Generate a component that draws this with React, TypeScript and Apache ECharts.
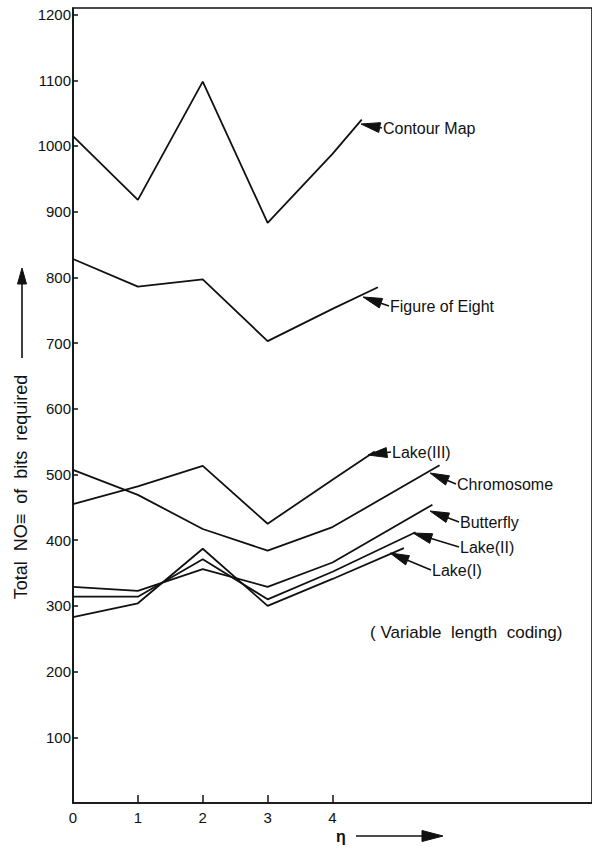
import React, { useEffect, useRef } from "react";
import * as echarts from "echarts";

// ---- data ----
const xTickLabels = [0, 1, 2, 3, 4];
const xTickMarks = [1, 2, 3, 4];
const yTickLabels = [100, 200, 300, 400, 500, 600, 700, 800, 900, 1000, 1100, 1200];

const contourMap = [[0, 1015], [1, 918], [2, 1098], [3, 883], [4, 988], [4.45, 1040]];
const figureOfEight = [[0, 828], [1, 786], [2, 797], [3, 703], [4, 752], [4.7, 785]];
const lake3 = [[0, 455], [1, 482], [2, 513], [3, 425], [4, 492], [4.65, 535]];
const chromosome = [[0, 507], [1, 469], [2, 417], [3, 384], [4, 420], [5.65, 514]];
const butterfly = [[0, 329], [1, 323], [2, 356], [3, 329], [4, 366], [5.54, 454]];
const lake2 = [[0, 314], [1, 314], [2, 371], [3, 310], [4, 352], [5.28, 412]];
const lake1 = [[0, 283], [1, 304], [2, 387], [3, 300], [4, 341], [5.1, 388]];

const seriesNames = ["Contour Map", "Figure of Eight", "Lake(III)", "Chromosome", "Butterfly", "Lake(II)", "Lake(I)"];
const seriesData = [contourMap, figureOfEight, lake3, chromosome, butterfly, lake2, lake1];

const yTitle = "Total  NO\u2261  of  bits  required";
const xTitle = "\u03b7";
const noteText = "( Variable  length  coding)";

// ---- layout (pixels) ----
const INK = "#111";
const FONT = "'Liberation Sans', Arial, sans-serif";
const labelLayout = [
  { tip: [361, 124], tx: 383, ty: 128 },
  { tip: [363, 297], tx: 390, ty: 306 },
  { tip: [368, 455], tx: 392, ty: 452 },
  { tip: [430, 473], tx: 457, ty: 484 },
  { tip: [430, 511], tx: 460, ty: 522 },
  { tip: [413, 533], tx: 460, ty: 547 },
  { tip: [390, 553], tx: 432, ty: 570 },
];

function arrow(tx: number, ty: number, ex: number, ey: number, headLen: number, headW: number) {
  const dx = ex - tx;
  const dy = ey - ty;
  const len = Math.sqrt(dx * dx + dy * dy) || 1;
  const ux = dx / len;
  const uy = dy / len;
  const bx = tx + ux * headLen;
  const by = ty + uy * headLen;
  const px = -uy * headW / 2;
  const py = ux * headW / 2;
  const els: any[] = [
    {
      type: "polygon",
      shape: { points: [[tx, ty], [bx + px, by + py], [bx - px, by - py]] },
      style: { fill: INK, stroke: INK, lineWidth: 1 },
      silent: true,
    },
  ];
  if (len > headLen) {
    els.push({
      type: "line",
      shape: { x1: bx, y1: by, x2: ex, y2: ey },
      style: { stroke: INK, lineWidth: 1.6 },
      silent: true,
    });
  }
  return els;
}

export default function App() {
  const ref = useRef<HTMLDivElement>(null);

  useEffect(() => {
    document.body.style.margin = "0";
    if (!ref.current) return;
    const chart = echarts.init(ref.current, null, { renderer: "svg" });

    const graphics: any[] = [];
    labelLayout.forEach((l, i) => {
      graphics.push(...arrow(l.tip[0], l.tip[1], l.tx - 1, l.ty, 19, 10));
      graphics.push({
        type: "text",
        x: l.tx,
        y: l.ty,
        silent: true,
        style: {
          text: seriesNames[i],
          fill: INK,
          font: `16px ${FONT}`,
          textAlign: "left",
          textVerticalAlign: "middle",
        },
      });
    });
    // y axis title + arrow
    graphics.push({
      type: "text",
      x: 21,
      y: 487,
      rotation: Math.PI / 2,
      silent: true,
      style: {
        text: yTitle,
        fill: INK,
        font: `18px ${FONT}`,
        textAlign: "center",
        textVerticalAlign: "middle",
      },
    });
    graphics.push(...arrow(22, 268, 22, 358, 16, 9));
    // x axis title + arrow
    graphics.push({
      type: "text",
      x: 341,
      y: 836,
      silent: true,
      style: { text: xTitle, fill: INK, font: `bold 16px ${FONT}`, textAlign: "center", textVerticalAlign: "middle" },
    });
    graphics.push(...arrow(443, 836, 356, 836, 21, 11));
    // note
    graphics.push({
      type: "text",
      x: 370,
      y: 632,
      silent: true,
      style: { text: noteText, fill: INK, font: `17px ${FONT}`, textAlign: "left", textVerticalAlign: "middle" },
    });

    chart.setOption({
      animation: false,
      backgroundColor: "#fff",
      grid: {
        left: 73,
        top: 8,
        width: 522,
        height: 795,
        show: true,
        borderColor: INK,
        borderWidth: 1.6,
        backgroundColor: "transparent",
      },
      xAxis: {
        type: "value",
        min: 0,
        max: 8,
        interval: 1,
        axisLine: { show: true, onZero: false, lineStyle: { color: INK, width: 1.6 } },
        axisTick: { show: true, inside: true, length: 8, customValues: xTickMarks, lineStyle: { color: INK, width: 1.5 } },
        axisLabel: {
          customValues: xTickLabels,
          color: INK,
          fontSize: 15,
          fontFamily: FONT,
          margin: 7,
          formatter: (v: number) => String(v),
        },
        splitLine: { show: false },
      },
      yAxis: {
        type: "value",
        min: 0,
        max: 1210,
        axisLine: { show: true, onZero: false, lineStyle: { color: INK, width: 1.6 } },
        axisTick: { show: true, inside: true, length: 5, customValues: yTickLabels, lineStyle: { color: INK, width: 1.5 } },
        axisLabel: {
          customValues: yTickLabels,
          color: INK,
          fontSize: 15,
          fontFamily: FONT,
          margin: 2,
          formatter: (v: number) => String(v),
        },
        splitLine: { show: false },
      },
      series: seriesData.map((d, i) => ({
        name: seriesNames[i],
        type: "line",
        data: d,
        showSymbol: false,
        symbol: "none",
        silent: true,
        lineStyle: { color: INK, width: 1.8 },
      })),
      graphic: graphics,
    });

    return () => chart.dispose();
  }, []);

  return (
    <div
      ref={ref}
      style={{ position: "absolute", left: 0, top: 0, width: 592, height: 850, background: "#fff" }}
    />
  );
}
